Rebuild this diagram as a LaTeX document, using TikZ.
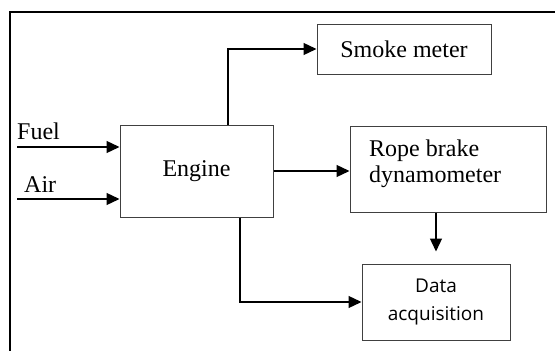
\documentclass[tikz,border=0pt]{standalone}
\usepackage{fontspec}
\setmainfont{Liberation Serif}
\newfontfamily\labelsans{Open Sans}
\usetikzlibrary{arrows.meta}

\begin{document}
\begin{tikzpicture}[x=1pt, y=-1pt,
  blk/.style={draw=black!75, line width=1pt, inner sep=0pt},
  flow/.style={line width=1.3pt, -{Triangle[length=13pt,width=12pt]}},
  serif/.style={font=\fontsize{24}{26}\selectfont},
  sans/.style={font=\labelsans\fontsize{19}{28}\selectfont}]
\useasboundingbox (0,0) rectangle (555,351);

% outer frame (open towards the right and bottom edges)
\draw[line width=2.3pt] (10,354) -- (10,12) -- (558,12);

% blocks
\node[blk, serif, minimum width=153pt, minimum height=92pt] (engine) at (196.5,171) {Engine};
\node[blk, serif, minimum width=174pt, minimum height=50pt] (smoke) at (404,49) {Smoke meter};
\node[blk, minimum width=196pt, minimum height=86pt] (rope) at (448,169) {};
\node[serif, align=left, anchor=west, inner sep=0pt] (ropetxt) at (369,164) {Rope brake\\dynamometer};
\node[blk, sans, align=center, minimum width=148pt, minimum height=76pt] (data) at (436,302) {Data\\acquisition};

% inputs
\coordinate (fuelin) at (17,147);
\coordinate (airin) at (17,199);
\node[serif, anchor=base west, inner sep=0pt] (fuellbl) at (17,139) {Fuel};
\node[serif, anchor=base west, inner sep=0pt] (airlbl) at (24,192) {Air};
\draw[flow] (fuelin) -- (fuelin -| engine.west);
\draw[flow] (airin) -- (airin -| engine.west);

% outputs
\draw[flow] ([xshift=31.5pt]engine.north) |- (smoke.west);
\draw[flow] (engine.east) -- (engine.east -| rope.west);
\draw[flow] ([xshift=43.5pt]engine.south) |- (data.west);
\draw[flow] (data.north |- rope.south) -- ([yshift=12pt]data.north);
\end{tikzpicture}
\end{document}
